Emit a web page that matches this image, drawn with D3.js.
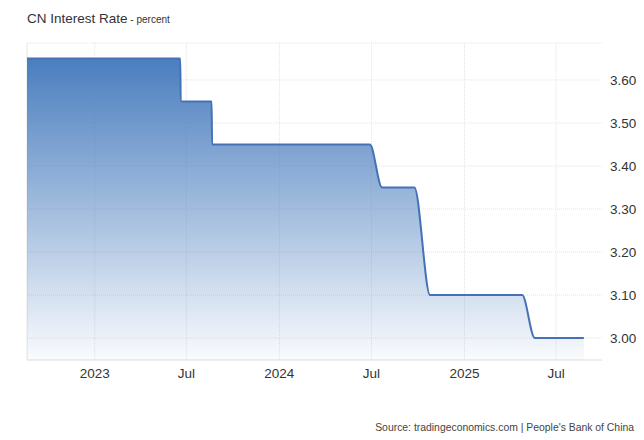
<!DOCTYPE html>
<html><head><meta charset="utf-8">
<script src="https://cdn.jsdelivr.net/npm/d3@7"></script>
<style>body{margin:0;background:#fff;font-family:"Liberation Sans",Arial,sans-serif}</style>
</head><body>
<script>
const dates = ['2022-08-20','2023-06-19','2023-06-20','2023-08-20','2023-08-21','2024-06-28','2024-07-22','2024-09-24','2024-10-25','2025-04-25','2025-05-20','2025-08-25']
const values = [3.65,3.65,3.55,3.55,3.45,3.45,3.35,3.35,3.10,3.10,3.00,3.00]
const yTicks = [3.00,3.10,3.20,3.30,3.40,3.50,3.60]
const xTicks = ['2023-01-01','2023-07-01','2024-01-01','2024-07-01','2025-01-01','2025-07-01']
const xLabels = ['2023','Jul','2024','Jul','2025','Jul']

const width = 644, height = 440
const margin = { left: 27, right: 46, top: 43, bottom: 80 }
const parse = d3.utcParse('%Y-%m-%d')
const data = dates.map((d, i) => ({ date: parse(d), value: values[i] }))

const x = d3.scaleUtc()
  .domain([parse('2022-08-20'), parse('2025-09-22')])
  .range([margin.left, width - margin.right])
const y = d3.scaleLinear()
  .domain([2.949, 3.686])
  .range([height - margin.bottom, margin.top])

const svg = d3.select('body').append('svg')
  .attr('width', width)
  .attr('height', height)

const grad = svg.append('defs').append('linearGradient')
  .attr('id', 'fill').attr('x1', 0).attr('y1', 0).attr('x2', 0).attr('y2', 1)
grad.append('stop').attr('offset', '0%').attr('stop-color', '#4a7ebf')
grad.append('stop').attr('offset', '100%').attr('stop-color', '#4a7ebf').attr('stop-opacity', 0.03)

// grid
svg.append('g').selectAll('line').data(yTicks).enter().append('line')
  .attr('x1', margin.left).attr('x2', width - margin.right + 4)
  .attr('y1', d => y(d)).attr('y2', d => y(d))
  .attr('stroke', '#e4e4e4').attr('stroke-dasharray', '1,1')
svg.append('g').selectAll('line').data(xTicks).enter().append('line')
  .attr('x1', d => x(parse(d))).attr('x2', d => x(parse(d)))
  .attr('y1', margin.top).attr('y2', height - margin.bottom)
  .attr('stroke', '#e4e4e4').attr('stroke-dasharray', '1,1')
svg.append('line')
  .attr('x1', margin.left).attr('x2', width - margin.right + 4)
  .attr('y1', margin.top).attr('y2', margin.top)
  .attr('stroke', '#e4e4e4').attr('stroke-dasharray', '1,1')
svg.append('line')
  .attr('x1', margin.left).attr('x2', width - margin.right + 4)
  .attr('y1', height - margin.bottom).attr('y2', height - margin.bottom)
  .attr('stroke', '#dcdcdc')
svg.append('line')
  .attr('x1', margin.left).attr('x2', margin.left)
  .attr('y1', margin.top).attr('y2', height - margin.bottom)
  .attr('stroke', '#e4e4e4')

const curve = d3.curveMonotoneX
svg.append('path').datum(data)
  .attr('fill', 'url(#fill)')
  .attr('d', d3.area().curve(curve).x(d => x(d.date)).y0(height - margin.bottom).y1(d => y(d.value)))
svg.append('path').datum(data)
  .attr('fill', 'none').attr('stroke', '#4572b5').attr('stroke-width', 2)
  .attr('d', d3.line().curve(curve).x(d => x(d.date)).y(d => y(d.value)))

// axes
svg.append('g').selectAll('text').data(yTicks).enter().append('text')
  .attr('x', 610).attr('y', d => y(d) + 5)
  .attr('font-size', 13.5).attr('fill', '#333')
  .text(d => d.toFixed(2))
svg.append('g').selectAll('text').data(xTicks).enter().append('text')
  .attr('x', d => x(parse(d))).attr('y', 378)
  .attr('text-anchor', 'middle').attr('font-size', 13.5).attr('fill', '#333')
  .text((d, i) => xLabels[i])

svg.append('text').attr('x', 27).attr('y', 23).attr('font-size', 13.5).attr('fill', '#333')
  .text('CN Interest Rate')
  .append('tspan').attr('font-size', 10).text(' - percent')
svg.append('text').attr('x', 634).attr('y', 431).attr('text-anchor', 'end')
  .attr('font-size', 10.4).attr('fill', '#444')
  .text("Source: tradingeconomics.com | People's Bank of China")
</script>
</body></html>
